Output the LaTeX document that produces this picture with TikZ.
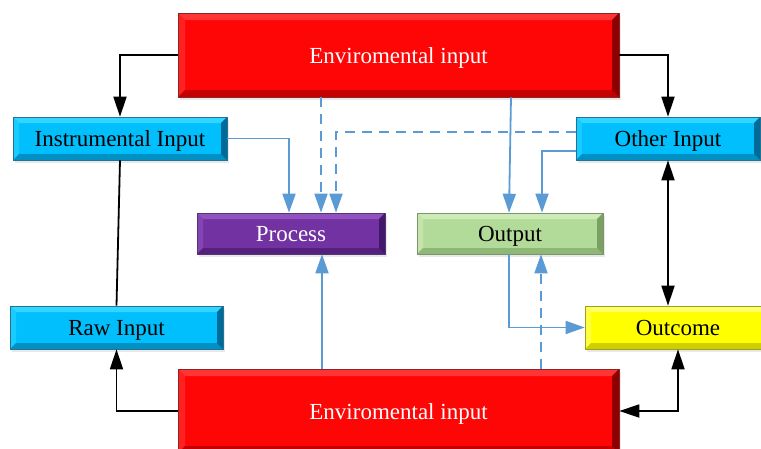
\documentclass[tikz,border=0pt]{standalone}
\usepackage{fontspec}
\setmainfont{Liberation Serif}
\usetikzlibrary{arrows.meta,shadows}
\definecolor{cblue}{HTML}{5B9BD5}
\definecolor{rF}{HTML}{FF0606}\definecolor{rT}{HTML}{FF3434}\definecolor{rL}{HTML}{FF2020}\definecolor{rB}{HTML}{C40000}\definecolor{rR}{HTML}{8E0000}
\definecolor{cF}{HTML}{00BFFC}\definecolor{cT}{HTML}{30D6FF}\definecolor{cL}{HTML}{18CCFF}\definecolor{cB}{HTML}{0090C4}\definecolor{cR}{HTML}{006A98}
\definecolor{pF}{HTML}{7232A2}\definecolor{pT}{HTML}{9152C0}\definecolor{pL}{HTML}{8444B4}\definecolor{pB}{HTML}{55207E}\definecolor{pR}{HTML}{42186A}
\definecolor{gF}{HTML}{B2DA98}\definecolor{gT}{HTML}{CDEBB6}\definecolor{gL}{HTML}{C4E4AC}\definecolor{gB}{HTML}{8FB877}\definecolor{gR}{HTML}{7AA063}
\definecolor{yF}{HTML}{FFFF00}\definecolor{yT}{HTML}{FFFF66}\definecolor{yL}{HTML}{FFFF40}\definecolor{yB}{HTML}{CFCF00}\definecolor{yR}{HTML}{A8A800}
\newlength{\bw}
\tikzset{
  box/.style n args={6}{rectangle, inner sep=0pt, fill=#1, draw=#5!70!gray, line width=0.6pt,
    font=\fontsize{23}{26}\selectfont, text=#6, text height=17pt, text depth=1pt,
    drop shadow={opacity=0.18, shadow xshift=1.5pt, shadow yshift=-2.5pt},
    path picture={
      \path (path picture bounding box.north west) coordinate (nw)
            (path picture bounding box.south east) coordinate (se)
            (path picture bounding box.north east) coordinate (ne)
            (path picture bounding box.south west) coordinate (sw);
      \fill[#2] (nw) -- (ne) -- ([xshift=-\bw,yshift=-\bw]ne) -- ([xshift=\bw,yshift=-\bw]nw) -- cycle;
      \fill[#3] (nw) -- (sw) -- ([xshift=\bw,yshift=\bw]sw) -- ([xshift=\bw,yshift=-\bw]nw) -- cycle;
      \fill[#4] (sw) -- (se) -- ([xshift=-\bw,yshift=\bw]se) -- ([xshift=\bw,yshift=\bw]sw) -- cycle;
      \fill[#5] (ne) -- (se) -- ([xshift=-\bw,yshift=\bw]se) -- ([xshift=-\bw,yshift=-\bw]ne) -- cycle;
    }},
  redbox/.style={box={rF}{rT}{rL}{rB}{rR}{white}, /utils/exec={\setlength{\bw}{7pt}}},
  cyanbox/.style={box={cF}{cT}{cL}{cB}{cR}{black}, /utils/exec={\setlength{\bw}{6pt}}},
  purplebox/.style={box={pF}{pT}{pL}{pB}{pR}{white}, /utils/exec={\setlength{\bw}{6pt}}},
  greenbox/.style={box={gF}{gT}{gL}{gB}{gR}{black}, /utils/exec={\setlength{\bw}{6pt}}},
  yellowbox/.style={box={yF}{yT}{yL}{yB}{yR}{black}, /utils/exec={\setlength{\bw}{6pt}}},
  barrow/.style={draw=cblue, line width=1.8pt, -{Triangle[length=19pt,width=13pt]}},
  bdash/.style={barrow, dash pattern=on 10pt off 7pt},
  karrow/.style={draw=black, line width=1.8pt, -{Triangle[length=20pt,width=13pt]}},
  kdouble/.style={draw=black, line width=1.8pt, {Triangle[length=20pt,width=13pt]}-{Triangle[length=20pt,width=13pt]}},
}
\begin{document}
\begin{tikzpicture}[x=1pt,y=-1pt]
\useasboundingbox (0,0) rectangle (761,448);
\node[redbox, minimum width=441pt, minimum height=84pt] (top) at (398.5,55) {Enviromental input};
\node[redbox, minimum width=441pt, minimum height=84pt] (bot) at (398.5,411) {Enviromental input};
\node[cyanbox, minimum width=214pt, minimum height=43pt] (instr) at (120,138.5) {Instrumental Input};
\node[cyanbox, minimum width=184pt, minimum height=43pt] (other) at (668,138.5) {Other Input};
\node[purplebox, minimum width=188pt, minimum height=41pt] (process) at (291,233.5) {Process};
\node[greenbox, minimum width=186pt, minimum height=41pt] (output) at (510,233.5) {Output};
\node[cyanbox, minimum width=213pt, minimum height=43pt] (raw) at (116.5,327.5) {Raw Input};
\node[yellowbox, minimum width=186pt, minimum height=43pt] (outcome) at (678,327.5) {Outcome};

% black connectors
\draw[karrow] (top.west) -| (instr.north);
\draw[karrow] (top.east) -| (other.north);
\draw[black, line width=1.8pt] (instr.south) -- (raw.north);
\draw[karrow] (bot.west) -| (raw.south);
\draw[kdouble] (bot.east) -| (outcome.south);
\draw[kdouble] (other.south) -- (other.south |- outcome.north);

% blue connectors
\draw[barrow] (instr.east) -| ([xshift=-2pt]process.north);
\draw[bdash] (top.south -| 321,0) -- (process.north -| 321,0);
\draw[bdash] ([yshift=6.5pt]other.west) -| (process.north -| 336,0);
\draw[barrow] (top.south -| 511,0) -- (output.north -| 509,0);
\draw[barrow] ([yshift=-12.5pt]other.west) -| (output.north -| 542,0);
\draw[barrow] (output.south -| 509,0) |- (outcome.west);
\draw[bdash] (bot.north -| 541,0) -- (output.south -| 541,0);
\draw[barrow] (bot.north -| 322,0) -- (process.south -| 322,0);
\end{tikzpicture}
\end{document}
